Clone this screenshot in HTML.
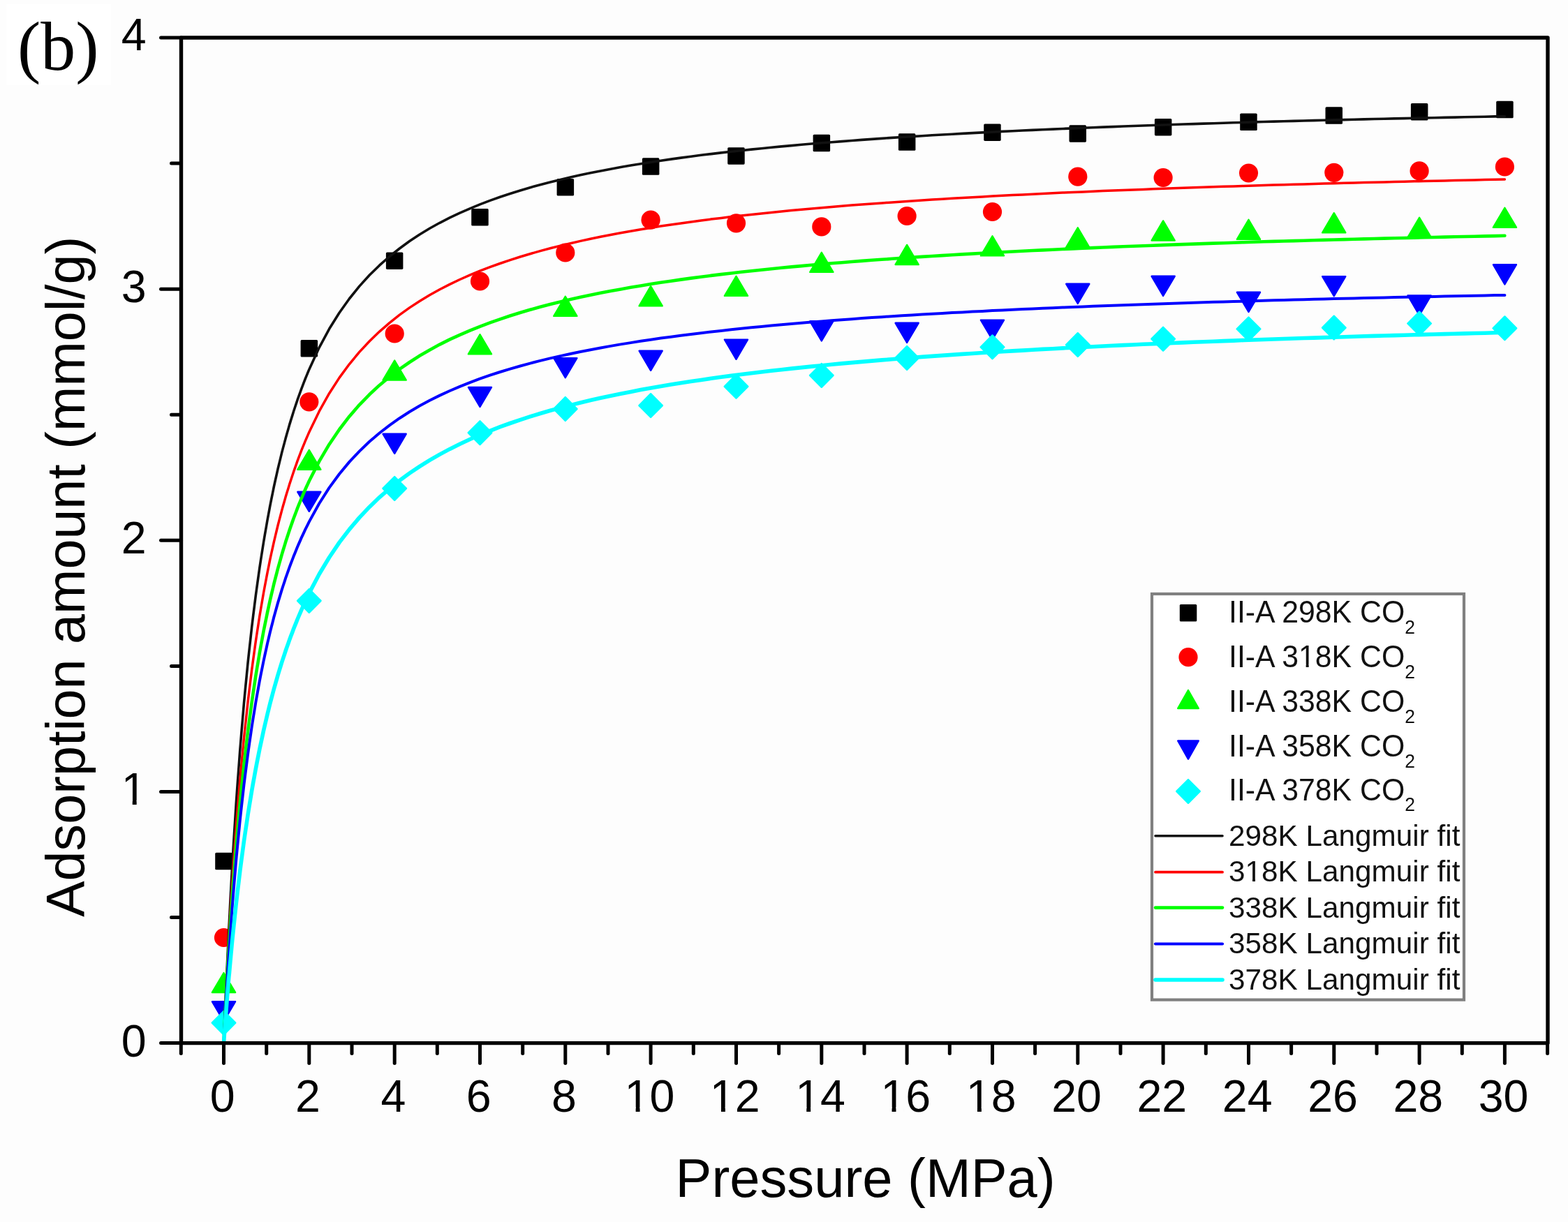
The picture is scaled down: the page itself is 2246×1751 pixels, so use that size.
<!DOCTYPE html><html><head><meta charset="utf-8"><title>Adsorption isotherms</title><style>html,body{margin:0;padding:0;background:#fdfdfd;}svg{display:block}text{font-family:"Liberation Sans",Arial,sans-serif;}</style></head><body>
<svg width="2246" height="1751" viewBox="0 0 2246 1751">
<rect x="0" y="0" width="2246" height="1751" fill="#fdfdfd"/>
<rect x="9" y="6" width="150" height="116" fill="#ffffff"/>
<text x="25" y="99.5" font-family="Liberation Serif, serif" font-size="100" fill="#000" style="font-family:'Liberation Serif',serif">(b)</text>
<g id="markers">
<rect x="308.2" y="1221.8" width="24.5" height="24.5" rx="1.6" fill="#000"/>
<rect x="430.6" y="487.1" width="24.5" height="24.5" rx="1.6" fill="#000"/>
<rect x="552.9" y="361.4" width="24.5" height="24.5" rx="1.6" fill="#000"/>
<rect x="675.2" y="299.1" width="24.5" height="24.5" rx="1.6" fill="#000"/>
<rect x="797.6" y="256.1" width="24.5" height="24.5" rx="1.6" fill="#000"/>
<rect x="919.9" y="226.3" width="24.5" height="24.5" rx="1.6" fill="#000"/>
<rect x="1042.2" y="211.2" width="24.5" height="24.5" rx="1.6" fill="#000"/>
<rect x="1164.6" y="192.8" width="24.5" height="24.5" rx="1.6" fill="#000"/>
<rect x="1286.9" y="191.3" width="24.5" height="24.5" rx="1.6" fill="#000"/>
<rect x="1409.2" y="177.4" width="24.5" height="24.5" rx="1.6" fill="#000"/>
<rect x="1531.5" y="179.2" width="24.5" height="24.5" rx="1.6" fill="#000"/>
<rect x="1653.9" y="169.9" width="24.5" height="24.5" rx="1.6" fill="#000"/>
<rect x="1776.2" y="162.6" width="24.5" height="24.5" rx="1.6" fill="#000"/>
<rect x="1898.5" y="153.3" width="24.5" height="24.5" rx="1.6" fill="#000"/>
<rect x="2020.9" y="148.1" width="24.5" height="24.5" rx="1.6" fill="#000"/>
<rect x="2143.2" y="144.8" width="24.5" height="24.5" rx="1.6" fill="#000"/>
<circle cx="320.5" cy="1343.5" r="13.6" fill="#ff0000"/>
<circle cx="442.8" cy="575.8" r="13.6" fill="#ff0000"/>
<circle cx="565.2" cy="478.0" r="13.6" fill="#ff0000"/>
<circle cx="687.5" cy="403.0" r="13.6" fill="#ff0000"/>
<circle cx="809.8" cy="362.0" r="13.6" fill="#ff0000"/>
<circle cx="932.1" cy="315.2" r="13.6" fill="#ff0000"/>
<circle cx="1054.5" cy="319.8" r="13.6" fill="#ff0000"/>
<circle cx="1176.8" cy="324.9" r="13.6" fill="#ff0000"/>
<circle cx="1299.1" cy="309.5" r="13.6" fill="#ff0000"/>
<circle cx="1421.5" cy="303.5" r="13.6" fill="#ff0000"/>
<circle cx="1543.8" cy="253.1" r="13.6" fill="#ff0000"/>
<circle cx="1666.1" cy="254.5" r="13.6" fill="#ff0000"/>
<circle cx="1788.5" cy="248.0" r="13.6" fill="#ff0000"/>
<circle cx="1910.8" cy="247.4" r="13.6" fill="#ff0000"/>
<circle cx="2033.1" cy="244.9" r="13.6" fill="#ff0000"/>
<circle cx="2155.4" cy="239.0" r="13.6" fill="#ff0000"/>
<path d="M320.5,1394.0L337.1,1422.0L303.9,1422.0Z" fill="#00ff00" stroke="#00ff00" stroke-width="2.4" stroke-linejoin="round"/>
<path d="M442.8,644.8L459.4,672.8L426.3,672.8Z" fill="#00ff00" stroke="#00ff00" stroke-width="2.4" stroke-linejoin="round"/>
<path d="M565.2,516.6L581.7,544.6L548.6,544.6Z" fill="#00ff00" stroke="#00ff00" stroke-width="2.4" stroke-linejoin="round"/>
<path d="M687.5,479.3L704.0,507.4L670.9,507.4Z" fill="#00ff00" stroke="#00ff00" stroke-width="2.4" stroke-linejoin="round"/>
<path d="M809.8,424.8L826.4,452.9L793.3,452.9Z" fill="#00ff00" stroke="#00ff00" stroke-width="2.4" stroke-linejoin="round"/>
<path d="M932.1,410.2L948.7,438.4L915.6,438.4Z" fill="#00ff00" stroke="#00ff00" stroke-width="2.4" stroke-linejoin="round"/>
<path d="M1054.5,395.8L1071.0,423.9L1037.9,423.9Z" fill="#00ff00" stroke="#00ff00" stroke-width="2.4" stroke-linejoin="round"/>
<path d="M1176.8,361.8L1193.4,389.9L1160.3,389.9Z" fill="#00ff00" stroke="#00ff00" stroke-width="2.4" stroke-linejoin="round"/>
<path d="M1299.1,350.9L1315.7,379.1L1282.6,379.1Z" fill="#00ff00" stroke="#00ff00" stroke-width="2.4" stroke-linejoin="round"/>
<path d="M1421.5,338.3L1438.0,366.4L1404.9,366.4Z" fill="#00ff00" stroke="#00ff00" stroke-width="2.4" stroke-linejoin="round"/>
<path d="M1543.8,326.3L1560.3,354.4L1527.2,354.4Z" fill="#00ff00" stroke="#00ff00" stroke-width="2.4" stroke-linejoin="round"/>
<path d="M1666.1,316.4L1682.7,344.6L1649.6,344.6Z" fill="#00ff00" stroke="#00ff00" stroke-width="2.4" stroke-linejoin="round"/>
<path d="M1788.5,314.8L1805.0,342.9L1771.9,342.9Z" fill="#00ff00" stroke="#00ff00" stroke-width="2.4" stroke-linejoin="round"/>
<path d="M1910.8,305.2L1927.3,333.4L1894.2,333.4Z" fill="#00ff00" stroke="#00ff00" stroke-width="2.4" stroke-linejoin="round"/>
<path d="M2033.1,311.8L2049.7,339.9L2016.6,339.9Z" fill="#00ff00" stroke="#00ff00" stroke-width="2.4" stroke-linejoin="round"/>
<path d="M2155.4,297.8L2172.0,325.9L2138.9,325.9Z" fill="#00ff00" stroke="#00ff00" stroke-width="2.4" stroke-linejoin="round"/>
<path d="M303.9,1435.2L337.1,1435.2L320.5,1463.3Z" fill="#0000ff" stroke="#0000ff" stroke-width="2.4" stroke-linejoin="round"/>
<path d="M426.3,704.8L459.4,704.8L442.8,732.8Z" fill="#0000ff" stroke="#0000ff" stroke-width="2.4" stroke-linejoin="round"/>
<path d="M548.6,621.8L581.7,621.8L565.2,649.8Z" fill="#0000ff" stroke="#0000ff" stroke-width="2.4" stroke-linejoin="round"/>
<path d="M670.9,555.0L704.0,555.0L687.5,583.0Z" fill="#0000ff" stroke="#0000ff" stroke-width="2.4" stroke-linejoin="round"/>
<path d="M793.3,513.2L826.4,513.2L809.8,541.2Z" fill="#0000ff" stroke="#0000ff" stroke-width="2.4" stroke-linejoin="round"/>
<path d="M915.6,502.7L948.7,502.7L932.1,530.8Z" fill="#0000ff" stroke="#0000ff" stroke-width="2.4" stroke-linejoin="round"/>
<path d="M1037.9,486.6L1071.0,486.6L1054.5,514.8Z" fill="#0000ff" stroke="#0000ff" stroke-width="2.4" stroke-linejoin="round"/>
<path d="M1160.3,460.3L1193.4,460.3L1176.8,488.4Z" fill="#0000ff" stroke="#0000ff" stroke-width="2.4" stroke-linejoin="round"/>
<path d="M1282.6,462.8L1315.7,462.8L1299.1,490.9Z" fill="#0000ff" stroke="#0000ff" stroke-width="2.4" stroke-linejoin="round"/>
<path d="M1404.9,458.6L1438.0,458.6L1421.5,486.7Z" fill="#0000ff" stroke="#0000ff" stroke-width="2.4" stroke-linejoin="round"/>
<path d="M1527.2,406.8L1560.3,406.8L1543.8,434.9Z" fill="#0000ff" stroke="#0000ff" stroke-width="2.4" stroke-linejoin="round"/>
<path d="M1649.6,395.8L1682.7,395.8L1666.1,423.9Z" fill="#0000ff" stroke="#0000ff" stroke-width="2.4" stroke-linejoin="round"/>
<path d="M1771.9,418.8L1805.0,418.8L1788.5,446.9Z" fill="#0000ff" stroke="#0000ff" stroke-width="2.4" stroke-linejoin="round"/>
<path d="M1894.2,396.1L1927.3,396.1L1910.8,424.2Z" fill="#0000ff" stroke="#0000ff" stroke-width="2.4" stroke-linejoin="round"/>
<path d="M2016.6,423.4L2049.7,423.4L2033.1,451.6Z" fill="#0000ff" stroke="#0000ff" stroke-width="2.4" stroke-linejoin="round"/>
<path d="M2138.9,379.2L2172.0,379.2L2155.4,407.4Z" fill="#0000ff" stroke="#0000ff" stroke-width="2.4" stroke-linejoin="round"/>
<path d="M320.5,1448.8L337.3,1465.7L320.5,1482.6L303.7,1465.7Z" fill="#00ffff" stroke="#00ffff" stroke-width="2.4" stroke-linejoin="round"/>
<path d="M442.8,844.0L459.6,860.9L442.8,877.8L426.0,860.9Z" fill="#00ffff" stroke="#00ffff" stroke-width="2.4" stroke-linejoin="round"/>
<path d="M565.2,683.0L582.0,699.9L565.2,716.8L548.4,699.9Z" fill="#00ffff" stroke="#00ffff" stroke-width="2.4" stroke-linejoin="round"/>
<path d="M687.5,603.3L704.3,620.2L687.5,637.1L670.7,620.2Z" fill="#00ffff" stroke="#00ffff" stroke-width="2.4" stroke-linejoin="round"/>
<path d="M809.8,569.1L826.6,586.0L809.8,602.9L793.0,586.0Z" fill="#00ffff" stroke="#00ffff" stroke-width="2.4" stroke-linejoin="round"/>
<path d="M932.1,564.2L948.9,581.1L932.1,598.0L915.4,581.1Z" fill="#00ffff" stroke="#00ffff" stroke-width="2.4" stroke-linejoin="round"/>
<path d="M1054.5,536.9L1071.3,553.8L1054.5,570.7L1037.7,553.8Z" fill="#00ffff" stroke="#00ffff" stroke-width="2.4" stroke-linejoin="round"/>
<path d="M1176.8,521.0L1193.6,537.9L1176.8,554.8L1160.0,537.9Z" fill="#00ffff" stroke="#00ffff" stroke-width="2.4" stroke-linejoin="round"/>
<path d="M1299.1,496.1L1315.9,513.0L1299.1,529.9L1282.3,513.0Z" fill="#00ffff" stroke="#00ffff" stroke-width="2.4" stroke-linejoin="round"/>
<path d="M1421.5,480.4L1438.3,497.3L1421.5,514.2L1404.7,497.3Z" fill="#00ffff" stroke="#00ffff" stroke-width="2.4" stroke-linejoin="round"/>
<path d="M1543.8,477.2L1560.6,494.1L1543.8,511.0L1527.0,494.1Z" fill="#00ffff" stroke="#00ffff" stroke-width="2.4" stroke-linejoin="round"/>
<path d="M1666.1,468.8L1682.9,485.7L1666.1,502.6L1649.3,485.7Z" fill="#00ffff" stroke="#00ffff" stroke-width="2.4" stroke-linejoin="round"/>
<path d="M1788.5,454.5L1805.3,471.4L1788.5,488.3L1771.7,471.4Z" fill="#00ffff" stroke="#00ffff" stroke-width="2.4" stroke-linejoin="round"/>
<path d="M1910.8,452.7L1927.6,469.6L1910.8,486.5L1894.0,469.6Z" fill="#00ffff" stroke="#00ffff" stroke-width="2.4" stroke-linejoin="round"/>
<path d="M2033.1,446.6L2049.9,463.5L2033.1,480.4L2016.3,463.5Z" fill="#00ffff" stroke="#00ffff" stroke-width="2.4" stroke-linejoin="round"/>
<path d="M2155.4,453.4L2172.2,470.3L2155.4,487.2L2138.6,470.3Z" fill="#00ffff" stroke="#00ffff" stroke-width="2.4" stroke-linejoin="round"/>
</g>
<g id="curves">
<polyline fill="none" stroke="#111" stroke-width="3.6" stroke-linejoin="round" stroke-linecap="round" points="320.5,1494.6 321.1,1480.2 321.7,1465.6 322.3,1451.2 322.9,1436.9 323.6,1422.9 324.2,1409.1 324.8,1395.5 325.4,1382.2 326.0,1369.1 326.6,1356.3 327.2,1343.6 327.8,1331.2 328.5,1319.1 329.1,1307.1 329.7,1295.4 330.3,1283.9 330.9,1272.6 331.5,1261.5 332.1,1250.6 332.7,1239.9 334.6,1208.4 336.5,1178.6 338.3,1150.3 340.2,1123.4 342.1,1097.8 343.9,1073.5 345.8,1050.3 347.7,1028.2 349.5,1007.2 351.4,987.0 353.3,967.7 355.1,949.3 357.0,931.6 358.9,914.7 360.7,898.4 362.6,882.8 364.5,867.8 366.3,853.4 368.2,839.5 370.1,826.1 371.9,813.2 373.8,800.8 375.7,788.8 377.5,777.2 379.4,766.0 381.3,755.2 383.1,744.7 385.0,734.6 386.8,724.8 388.7,715.3 390.6,706.1 392.4,697.2 394.3,688.5 396.2,680.1 398.0,672.0 399.9,664.1 401.8,656.4 403.6,648.9 405.5,641.6 407.4,634.6 409.2,627.7 411.1,621.0 413.0,614.5 414.8,608.1 416.7,601.9 418.6,595.9 420.4,590.0 422.3,584.3 424.2,578.7 426.0,573.2 427.9,567.9 429.8,562.7 431.6,557.6 433.5,552.6 435.4,547.7 437.2,543.0 439.1,538.3 441.0,533.8 442.8,529.4 457.2,498.1 471.6,471.3 486.0,448.2 500.4,428.0 514.8,410.1 529.2,394.3 543.6,380.2 558.0,367.5 572.4,356.0 586.7,345.5 601.1,336.0 615.5,327.3 629.9,319.3 644.3,311.9 658.7,305.1 673.1,298.8 687.5,292.9 701.9,287.4 716.3,282.3 730.7,277.5 745.1,273.0 759.4,268.7 773.8,264.7 788.2,261.0 802.6,257.4 817.0,254.0 831.4,250.8 845.8,247.8 860.2,244.9 874.6,242.2 889.0,239.5 903.4,237.0 917.8,234.7 932.1,232.4 946.5,230.2 960.9,228.1 975.3,226.1 989.7,224.2 1004.1,222.3 1018.5,220.6 1032.9,218.9 1047.3,217.2 1061.7,215.7 1076.1,214.1 1090.5,212.7 1104.9,211.2 1119.2,209.9 1133.6,208.6 1148.0,207.3 1162.4,206.0 1176.8,204.8 1191.2,203.7 1205.6,202.6 1220.0,201.5 1234.4,200.4 1248.8,199.4 1263.2,198.4 1277.6,197.4 1291.9,196.5 1306.3,195.6 1320.7,194.7 1335.1,193.8 1349.5,193.0 1363.9,192.2 1378.3,191.4 1392.7,190.6 1407.1,189.9 1421.5,189.1 1435.9,188.4 1450.3,187.7 1464.6,187.0 1479.0,186.4 1493.4,185.7 1507.8,185.1 1522.2,184.5 1536.6,183.9 1551.0,183.3 1565.4,182.7 1579.8,182.1 1594.2,181.6 1608.6,181.0 1623.0,180.5 1637.3,180.0 1651.7,179.5 1666.1,179.0 1680.5,178.5 1694.9,178.0 1709.3,177.6 1723.7,177.1 1738.1,176.7 1752.5,176.2 1766.9,175.8 1781.3,175.4 1795.7,174.9 1810.0,174.5 1824.4,174.1 1838.8,173.8 1853.2,173.4 1867.6,173.0 1882.0,172.6 1896.4,172.3 1910.8,171.9 1925.2,171.6 1939.6,171.2 1954.0,170.9 1968.4,170.5 1982.7,170.2 1997.1,169.9 2011.5,169.6 2025.9,169.3 2040.3,169.0 2054.7,168.7 2069.1,168.4 2083.5,168.1 2097.9,167.8 2112.3,167.5 2126.7,167.2 2141.1,166.9 2155.4,166.7"/>
<polyline fill="none" stroke="#ff0000" stroke-width="3.5" stroke-linejoin="round" stroke-linecap="round" points="320.5,1494.6 321.1,1480.5 321.7,1466.9 322.3,1453.5 322.9,1440.4 323.6,1427.7 324.2,1415.1 324.8,1402.9 325.4,1390.9 326.0,1379.2 326.6,1367.7 327.2,1356.4 327.8,1345.3 328.5,1334.5 329.1,1323.9 329.7,1313.4 330.3,1303.2 330.9,1293.2 331.5,1283.3 332.1,1273.6 332.7,1264.1 334.6,1236.2 336.5,1209.8 338.3,1184.6 340.2,1160.8 342.1,1138.1 343.9,1116.5 345.8,1095.8 347.7,1076.1 349.5,1057.3 351.4,1039.3 353.3,1022.0 355.1,1005.5 357.0,989.6 358.9,974.4 360.7,959.7 362.6,945.7 364.5,932.1 366.3,919.0 368.2,906.5 370.1,894.3 371.9,882.6 373.8,871.3 375.7,860.3 377.5,849.8 379.4,839.5 381.3,829.6 383.1,820.1 385.0,810.8 386.8,801.7 388.7,793.0 390.6,784.5 392.4,776.3 394.3,768.3 396.2,760.5 398.0,753.0 399.9,745.6 401.8,738.5 403.6,731.6 405.5,724.8 407.4,718.2 409.2,711.8 411.1,705.5 413.0,699.4 414.8,693.5 416.7,687.7 418.6,682.0 420.4,676.5 422.3,671.1 424.2,665.8 426.0,660.7 427.9,655.6 429.8,650.7 431.6,645.9 433.5,641.2 435.4,636.6 437.2,632.1 439.1,627.7 441.0,623.4 442.8,619.2 457.2,589.4 471.6,563.7 486.0,541.4 500.4,521.8 514.8,504.4 529.2,489.0 543.6,475.1 558.0,462.6 572.4,451.2 586.7,440.9 601.1,431.5 615.5,422.8 629.9,414.8 644.3,407.4 658.7,400.5 673.1,394.2 687.5,388.2 701.9,382.7 716.3,377.5 730.7,372.6 745.1,368.0 759.4,363.7 773.8,359.6 788.2,355.8 802.6,352.1 817.0,348.7 831.4,345.4 845.8,342.3 860.2,339.3 874.6,336.5 889.0,333.8 903.4,331.2 917.8,328.7 932.1,326.4 946.5,324.1 960.9,322.0 975.3,319.9 989.7,317.9 1004.1,316.0 1018.5,314.1 1032.9,312.4 1047.3,310.6 1061.7,309.0 1076.1,307.4 1090.5,305.9 1104.9,304.4 1119.2,303.0 1133.6,301.6 1148.0,300.2 1162.4,298.9 1176.8,297.7 1191.2,296.5 1205.6,295.3 1220.0,294.1 1234.4,293.0 1248.8,291.9 1263.2,290.9 1277.6,289.9 1291.9,288.9 1306.3,287.9 1320.7,287.0 1335.1,286.1 1349.5,285.2 1363.9,284.3 1378.3,283.5 1392.7,282.7 1407.1,281.9 1421.5,281.1 1435.9,280.3 1450.3,279.6 1464.6,278.9 1479.0,278.2 1493.4,277.5 1507.8,276.8 1522.2,276.1 1536.6,275.5 1551.0,274.9 1565.4,274.2 1579.8,273.6 1594.2,273.0 1608.6,272.5 1623.0,271.9 1637.3,271.4 1651.7,270.8 1666.1,270.3 1680.5,269.8 1694.9,269.3 1709.3,268.8 1723.7,268.3 1738.1,267.8 1752.5,267.3 1766.9,266.9 1781.3,266.4 1795.7,266.0 1810.0,265.5 1824.4,265.1 1838.8,264.7 1853.2,264.3 1867.6,263.9 1882.0,263.5 1896.4,263.1 1910.8,262.7 1925.2,262.3 1939.6,261.9 1954.0,261.6 1968.4,261.2 1982.7,260.9 1997.1,260.5 2011.5,260.2 2025.9,259.8 2040.3,259.5 2054.7,259.2 2069.1,258.9 2083.5,258.5 2097.9,258.2 2112.3,257.9 2126.7,257.6 2141.1,257.3 2155.4,257.0"/>
<polyline fill="none" stroke="#00ff00" stroke-width="4.6" stroke-linejoin="round" stroke-linecap="round" points="320.5,1494.6 321.1,1481.3 321.7,1468.5 322.3,1456.2 322.9,1444.2 323.6,1432.4 324.2,1421.0 324.8,1409.8 325.4,1398.8 326.0,1388.1 326.6,1377.6 327.2,1367.4 327.8,1357.3 328.5,1347.4 329.1,1337.8 329.7,1328.3 330.3,1319.0 330.9,1309.9 331.5,1300.9 332.1,1292.2 332.7,1283.5 334.6,1258.2 336.5,1234.1 338.3,1211.3 340.2,1189.6 342.1,1169.0 343.9,1149.3 345.8,1130.5 347.7,1112.5 349.5,1095.3 351.4,1078.9 353.3,1063.1 355.1,1048.0 357.0,1033.4 358.9,1019.5 360.7,1006.0 362.6,993.1 364.5,980.6 366.3,968.6 368.2,957.0 370.1,945.8 371.9,935.0 373.8,924.6 375.7,914.5 377.5,904.7 379.4,895.2 381.3,886.1 383.1,877.2 385.0,868.6 386.8,860.2 388.7,852.1 390.6,844.2 392.4,836.5 394.3,829.1 396.2,821.9 398.0,814.8 399.9,808.0 401.8,801.3 403.6,794.8 405.5,788.5 407.4,782.3 409.2,776.3 411.1,770.5 413.0,764.8 414.8,759.2 416.7,753.7 418.6,748.4 420.4,743.2 422.3,738.2 424.2,733.2 426.0,728.4 427.9,723.7 429.8,719.0 431.6,714.5 433.5,710.1 435.4,705.7 437.2,701.5 439.1,697.3 441.0,693.3 442.8,689.3 457.2,661.1 471.6,636.7 486.0,615.5 500.4,596.7 514.8,580.1 529.2,565.3 543.6,551.9 558.0,539.9 572.4,528.9 586.7,519.0 601.1,509.8 615.5,501.4 629.9,493.6 644.3,486.4 658.7,479.8 673.1,473.6 687.5,467.8 701.9,462.4 716.3,457.3 730.7,452.5 745.1,448.0 759.4,443.8 773.8,439.8 788.2,436.0 802.6,432.4 817.0,429.0 831.4,425.8 845.8,422.7 860.2,419.8 874.6,417.0 889.0,414.4 903.4,411.8 917.8,409.4 932.1,407.0 946.5,404.8 960.9,402.7 975.3,400.6 989.7,398.6 1004.1,396.7 1018.5,394.9 1032.9,393.1 1047.3,391.5 1061.7,389.8 1076.1,388.2 1090.5,386.7 1104.9,385.2 1119.2,383.8 1133.6,382.4 1148.0,381.1 1162.4,379.8 1176.8,378.6 1191.2,377.3 1205.6,376.2 1220.0,375.0 1234.4,373.9 1248.8,372.8 1263.2,371.8 1277.6,370.8 1291.9,369.8 1306.3,368.8 1320.7,367.9 1335.1,367.0 1349.5,366.1 1363.9,365.2 1378.3,364.4 1392.7,363.6 1407.1,362.8 1421.5,362.0 1435.9,361.2 1450.3,360.5 1464.6,359.8 1479.0,359.0 1493.4,358.4 1507.8,357.7 1522.2,357.0 1536.6,356.4 1551.0,355.7 1565.4,355.1 1579.8,354.5 1594.2,353.9 1608.6,353.3 1623.0,352.8 1637.3,352.2 1651.7,351.7 1666.1,351.1 1680.5,350.6 1694.9,350.1 1709.3,349.6 1723.7,349.1 1738.1,348.6 1752.5,348.2 1766.9,347.7 1781.3,347.2 1795.7,346.8 1810.0,346.3 1824.4,345.9 1838.8,345.5 1853.2,345.1 1867.6,344.7 1882.0,344.3 1896.4,343.9 1910.8,343.5 1925.2,343.1 1939.6,342.7 1954.0,342.4 1968.4,342.0 1982.7,341.6 1997.1,341.3 2011.5,341.0 2025.9,340.6 2040.3,340.3 2054.7,340.0 2069.1,339.6 2083.5,339.3 2097.9,339.0 2112.3,338.7 2126.7,338.4 2141.1,338.1 2155.4,337.8"/>
<polyline fill="none" stroke="#0000ff" stroke-width="4.0" stroke-linejoin="round" stroke-linecap="round" points="320.5,1494.6 321.1,1482.3 321.7,1470.5 322.3,1459.1 322.9,1447.9 323.6,1437.0 324.2,1426.4 324.8,1416.0 325.4,1405.9 326.0,1395.9 326.6,1386.2 327.2,1376.7 327.8,1367.3 328.5,1358.2 329.1,1349.2 329.7,1340.4 330.3,1331.8 330.9,1323.3 331.5,1315.0 332.1,1306.9 332.7,1298.9 334.6,1275.3 336.5,1253.0 338.3,1231.8 340.2,1211.7 342.1,1192.5 343.9,1174.2 345.8,1156.8 347.7,1140.1 349.5,1124.1 351.4,1108.9 353.3,1094.2 355.1,1080.2 357.0,1066.7 358.9,1053.7 360.7,1041.3 362.6,1029.3 364.5,1017.7 366.3,1006.5 368.2,995.8 370.1,985.4 371.9,975.4 373.8,965.7 375.7,956.3 377.5,947.3 379.4,938.5 381.3,930.0 383.1,921.7 385.0,913.7 386.8,906.0 388.7,898.5 390.6,891.2 392.4,884.1 394.3,877.2 396.2,870.4 398.0,863.9 399.9,857.6 401.8,851.4 403.6,845.4 405.5,839.5 407.4,833.8 409.2,828.2 411.1,822.8 413.0,817.5 414.8,812.4 416.7,807.3 418.6,802.4 420.4,797.6 422.3,792.9 424.2,788.3 426.0,783.8 427.9,779.4 429.8,775.1 431.6,770.9 433.5,766.8 435.4,762.8 437.2,758.9 439.1,755.1 441.0,751.3 442.8,747.6 457.2,721.5 471.6,698.9 486.0,679.3 500.4,661.9 514.8,646.6 529.2,632.8 543.6,620.5 558.0,609.4 572.4,599.2 586.7,590.0 601.1,581.6 615.5,573.8 629.9,566.6 644.3,560.0 658.7,553.8 673.1,548.1 687.5,542.7 701.9,537.7 716.3,533.0 730.7,528.6 745.1,524.5 759.4,520.6 773.8,516.9 788.2,513.4 802.6,510.1 817.0,507.0 831.4,504.0 845.8,501.2 860.2,498.5 874.6,495.9 889.0,493.4 903.4,491.1 917.8,488.8 932.1,486.7 946.5,484.6 960.9,482.7 975.3,480.8 989.7,478.9 1004.1,477.2 1018.5,475.5 1032.9,473.9 1047.3,472.3 1061.7,470.8 1076.1,469.3 1090.5,467.9 1104.9,466.6 1119.2,465.3 1133.6,464.0 1148.0,462.8 1162.4,461.6 1176.8,460.4 1191.2,459.3 1205.6,458.2 1220.0,457.2 1234.4,456.1 1248.8,455.1 1263.2,454.2 1277.6,453.2 1291.9,452.3 1306.3,451.4 1320.7,450.6 1335.1,449.7 1349.5,448.9 1363.9,448.1 1378.3,447.4 1392.7,446.6 1407.1,445.9 1421.5,445.1 1435.9,444.4 1450.3,443.8 1464.6,443.1 1479.0,442.4 1493.4,441.8 1507.8,441.2 1522.2,440.6 1536.6,440.0 1551.0,439.4 1565.4,438.8 1579.8,438.3 1594.2,437.7 1608.6,437.2 1623.0,436.7 1637.3,436.2 1651.7,435.7 1666.1,435.2 1680.5,434.7 1694.9,434.2 1709.3,433.7 1723.7,433.3 1738.1,432.8 1752.5,432.4 1766.9,432.0 1781.3,431.6 1795.7,431.2 1810.0,430.7 1824.4,430.3 1838.8,430.0 1853.2,429.6 1867.6,429.2 1882.0,428.8 1896.4,428.5 1910.8,428.1 1925.2,427.8 1939.6,427.4 1954.0,427.1 1968.4,426.7 1982.7,426.4 1997.1,426.1 2011.5,425.8 2025.9,425.5 2040.3,425.2 2054.7,424.9 2069.1,424.6 2083.5,424.3 2097.9,424.0 2112.3,423.7 2126.7,423.4 2141.1,423.1 2155.4,422.9"/>
<polyline fill="none" stroke="#00ffff" stroke-width="5.6" stroke-linejoin="round" stroke-linecap="round" points="320.5,1494.6 321.1,1485.7 321.7,1477.1 322.3,1468.8 322.9,1460.6 323.6,1452.7 324.2,1444.8 324.8,1437.1 325.4,1429.6 326.0,1422.1 326.6,1414.8 327.2,1407.6 327.8,1400.6 328.5,1393.6 329.1,1386.8 329.7,1380.0 330.3,1373.4 330.9,1366.8 331.5,1360.4 332.1,1354.0 332.7,1347.8 334.6,1329.2 336.5,1311.5 338.3,1294.4 340.2,1278.0 342.1,1262.3 343.9,1247.2 345.8,1232.6 347.7,1218.5 349.5,1205.0 351.4,1191.9 353.3,1179.3 355.1,1167.1 357.0,1155.3 358.9,1143.9 360.7,1132.8 362.6,1122.1 364.5,1111.7 366.3,1101.7 368.2,1091.9 370.1,1082.4 371.9,1073.2 373.8,1064.3 375.7,1055.6 377.5,1047.1 379.4,1038.9 381.3,1030.9 383.1,1023.1 385.0,1015.5 386.8,1008.2 388.7,1001.0 390.6,993.9 392.4,987.1 394.3,980.4 396.2,973.9 398.0,967.5 399.9,961.3 401.8,955.2 403.6,949.3 405.5,943.5 407.4,937.9 409.2,932.3 411.1,926.9 413.0,921.6 414.8,916.4 416.7,911.3 418.6,906.4 420.4,901.5 422.3,896.7 424.2,892.1 426.0,887.5 427.9,883.0 429.8,878.6 431.6,874.3 433.5,870.1 435.4,865.9 437.2,861.9 439.1,857.9 441.0,854.0 442.8,850.1 457.2,822.7 471.6,798.7 486.0,777.4 500.4,758.6 514.8,741.6 529.2,726.4 543.6,712.6 558.0,700.1 572.4,688.6 586.7,678.0 601.1,668.4 615.5,659.4 629.9,651.1 644.3,643.4 658.7,636.2 673.1,629.5 687.5,623.2 701.9,617.3 716.3,611.7 730.7,606.5 745.1,601.6 759.4,596.9 773.8,592.5 788.2,588.3 802.6,584.4 817.0,580.6 831.4,577.0 845.8,573.6 860.2,570.3 874.6,567.2 889.0,564.2 903.4,561.4 917.8,558.6 932.1,556.0 946.5,553.5 960.9,551.1 975.3,548.8 989.7,546.5 1004.1,544.4 1018.5,542.3 1032.9,540.3 1047.3,538.4 1061.7,536.5 1076.1,534.7 1090.5,533.0 1104.9,531.3 1119.2,529.7 1133.6,528.1 1148.0,526.6 1162.4,525.1 1176.8,523.7 1191.2,522.3 1205.6,520.9 1220.0,519.6 1234.4,518.4 1248.8,517.1 1263.2,515.9 1277.6,514.8 1291.9,513.6 1306.3,512.5 1320.7,511.4 1335.1,510.4 1349.5,509.4 1363.9,508.4 1378.3,507.4 1392.7,506.5 1407.1,505.5 1421.5,504.6 1435.9,503.8 1450.3,502.9 1464.6,502.1 1479.0,501.2 1493.4,500.4 1507.8,499.7 1522.2,498.9 1536.6,498.1 1551.0,497.4 1565.4,496.7 1579.8,496.0 1594.2,495.3 1608.6,494.6 1623.0,494.0 1637.3,493.3 1651.7,492.7 1666.1,492.1 1680.5,491.5 1694.9,490.9 1709.3,490.3 1723.7,489.7 1738.1,489.2 1752.5,488.6 1766.9,488.1 1781.3,487.5 1795.7,487.0 1810.0,486.5 1824.4,486.0 1838.8,485.5 1853.2,485.0 1867.6,484.5 1882.0,484.1 1896.4,483.6 1910.8,483.2 1925.2,482.7 1939.6,482.3 1954.0,481.8 1968.4,481.4 1982.7,481.0 1997.1,480.6 2011.5,480.2 2025.9,479.8 2040.3,479.4 2054.7,479.0 2069.1,478.6 2083.5,478.3 2097.9,477.9 2112.3,477.5 2126.7,477.2 2141.1,476.8 2155.4,476.5"/>
</g>
<path d="M259.5,1494.6V54.0H2217.0V1494.6Z" stroke="#000" stroke-width="5.4" fill="none" stroke-linejoin="round"/>
<g stroke="#000" stroke-width="5" fill="none" stroke-linecap="round">
<path d="M230.5,1494.6H259.5"/>
<path d="M245.5,1314.5H259.5"/>
<path d="M230.5,1134.4H259.5"/>
<path d="M245.5,954.4H259.5"/>
<path d="M230.5,774.3H259.5"/>
<path d="M245.5,594.2H259.5"/>
<path d="M230.5,414.2H259.5"/>
<path d="M245.5,234.1H259.5"/>
<path d="M230.5,54.0H259.5"/>
<path d="M259.3,1494.6V1509.5"/>
<path d="M320.5,1494.6V1523.5"/>
<path d="M381.7,1494.6V1509.5"/>
<path d="M442.8,1494.6V1523.5"/>
<path d="M504.0,1494.6V1509.5"/>
<path d="M565.2,1494.6V1523.5"/>
<path d="M626.3,1494.6V1509.5"/>
<path d="M687.5,1494.6V1523.5"/>
<path d="M748.7,1494.6V1509.5"/>
<path d="M809.8,1494.6V1523.5"/>
<path d="M871.0,1494.6V1509.5"/>
<path d="M932.1,1494.6V1523.5"/>
<path d="M993.3,1494.6V1509.5"/>
<path d="M1054.5,1494.6V1523.5"/>
<path d="M1115.6,1494.6V1509.5"/>
<path d="M1176.8,1494.6V1523.5"/>
<path d="M1238.0,1494.6V1509.5"/>
<path d="M1299.1,1494.6V1523.5"/>
<path d="M1360.3,1494.6V1509.5"/>
<path d="M1421.5,1494.6V1523.5"/>
<path d="M1482.6,1494.6V1509.5"/>
<path d="M1543.8,1494.6V1523.5"/>
<path d="M1605.0,1494.6V1509.5"/>
<path d="M1666.1,1494.6V1523.5"/>
<path d="M1727.3,1494.6V1509.5"/>
<path d="M1788.5,1494.6V1523.5"/>
<path d="M1849.6,1494.6V1509.5"/>
<path d="M1910.8,1494.6V1523.5"/>
<path d="M1972.0,1494.6V1509.5"/>
<path d="M2033.1,1494.6V1523.5"/>
<path d="M2094.3,1494.6V1509.5"/>
<path d="M2155.4,1494.6V1523.5"/>
<path d="M2216.6,1494.6V1509.5"/>
</g>
<g>
<g><text id="t1" x="209.5" y="1513.9" font-size="64.5" fill="#000" text-anchor="end">0</text>
</g>
<g><text id="t2" x="209.5" y="1153.0" font-size="64.5" fill="#000" text-anchor="end">1</text>
<rect x="177.74" y="1146.78" width="11.99" height="7.22" fill="#fdfdfd"/>
<rect x="195.66" y="1146.78" width="11.48" height="7.22" fill="#fdfdfd"/>
</g>
<g><text id="t3" x="209.5" y="792.9" font-size="64.5" fill="#000" text-anchor="end">2</text>
</g>
<g><text id="t4" x="209.5" y="432.7" font-size="64.5" fill="#000" text-anchor="end">3</text>
</g>
<g><text id="t5" x="209.5" y="71.8" font-size="64.5" fill="#000" text-anchor="end">4</text>
</g>
<g><text id="t6" x="318.7" y="1592.7" font-size="64.5" fill="#000" text-anchor="middle">0</text>
</g>
<g><text id="t7" x="441.0" y="1592.7" font-size="64.5" fill="#000" text-anchor="middle">2</text>
</g>
<g><text id="t8" x="563.4" y="1592.7" font-size="64.5" fill="#000" text-anchor="middle">4</text>
</g>
<g><text id="t9" x="685.7" y="1592.7" font-size="64.5" fill="#000" text-anchor="middle">6</text>
</g>
<g><text id="t10" x="808.0" y="1592.7" font-size="64.5" fill="#000" text-anchor="middle">8</text>
</g>
<g><text id="t11" x="930.4" y="1592.7" font-size="64.5" fill="#000" text-anchor="middle">10</text>
<rect x="898.64" y="1586.48" width="11.99" height="7.22" fill="#fdfdfd"/>
<rect x="916.56" y="1586.48" width="11.48" height="7.22" fill="#fdfdfd"/>
</g>
<g><text id="t12" x="1052.7" y="1592.7" font-size="64.5" fill="#000" text-anchor="middle">12</text>
<rect x="1020.94" y="1586.48" width="11.99" height="7.22" fill="#fdfdfd"/>
<rect x="1038.86" y="1586.48" width="11.48" height="7.22" fill="#fdfdfd"/>
</g>
<g><text id="t13" x="1175.0" y="1592.7" font-size="64.5" fill="#000" text-anchor="middle">14</text>
<rect x="1143.24" y="1586.48" width="11.99" height="7.22" fill="#fdfdfd"/>
<rect x="1161.16" y="1586.48" width="11.48" height="7.22" fill="#fdfdfd"/>
</g>
<g><text id="t14" x="1297.3" y="1592.7" font-size="64.5" fill="#000" text-anchor="middle">16</text>
<rect x="1265.54" y="1586.48" width="11.99" height="7.22" fill="#fdfdfd"/>
<rect x="1283.46" y="1586.48" width="11.48" height="7.22" fill="#fdfdfd"/>
</g>
<g><text id="t15" x="1419.7" y="1592.7" font-size="64.5" fill="#000" text-anchor="middle">18</text>
<rect x="1387.94" y="1586.48" width="11.99" height="7.22" fill="#fdfdfd"/>
<rect x="1405.86" y="1586.48" width="11.48" height="7.22" fill="#fdfdfd"/>
</g>
<g><text id="t16" x="1542.0" y="1592.7" font-size="64.5" fill="#000" text-anchor="middle">20</text>
</g>
<g><text id="t17" x="1664.3" y="1592.7" font-size="64.5" fill="#000" text-anchor="middle">22</text>
</g>
<g><text id="t18" x="1786.7" y="1592.7" font-size="64.5" fill="#000" text-anchor="middle">24</text>
</g>
<g><text id="t19" x="1909.0" y="1592.7" font-size="64.5" fill="#000" text-anchor="middle">26</text>
</g>
<g><text id="t20" x="2031.3" y="1592.7" font-size="64.5" fill="#000" text-anchor="middle">28</text>
</g>
<g><text id="t21" x="2153.6" y="1592.7" font-size="64.5" fill="#000" text-anchor="middle">30</text>
</g>
</g>
<g transform="translate(0,1715) scale(1,1.01) translate(0,-1715)"><text id="t22" x="967.6" y="1715" font-size="77.7" fill="#000">Pressure (MPa)</text>
</g>
<g transform="translate(120.5,1314) rotate(-90)"><text id="t23" x="0" y="0" font-size="77.3" fill="#000">Adsorption amount (mmol/g)</text>
</g>
<rect x="1650" y="851" width="447" height="581.6" fill="#fff" stroke="#808080" stroke-width="4.2"/>
<rect x="1689.8" y="866.0" width="24.5" height="24.5" rx="1.6" fill="#000"/>
<circle cx="1702.0" cy="941.7" r="13.6" fill="#ff0000"/>
<path d="M1702.0,989.0L1716.8,1015.0L1687.2,1015.0Z" fill="#00ff00" stroke="#00ff00" stroke-width="2.4" stroke-linejoin="round"/>
<path d="M1687.2,1061.5L1716.8,1061.5L1702.0,1087.6Z" fill="#0000ff" stroke="#0000ff" stroke-width="2.4" stroke-linejoin="round"/>
<path d="M1702.0,1117.0L1718.8,1133.9L1702.0,1150.8L1685.2,1133.9Z" fill="#00ffff" stroke="#00ffff" stroke-width="2.4" stroke-linejoin="round"/>
<g transform="translate(0,892.5) scale(1,1.015) translate(0,-892.5)"><text id="t24" x="1760" y="892.5" font-size="42.85" fill="#111">II-A 298K CO<tspan font-size="26.5" dy="15.3">2</tspan></text>
</g>
<g transform="translate(0,956.5) scale(1,1.015) translate(0,-956.5)"><text id="t25" x="1760" y="956.5" font-size="42.85" fill="#111">II-A 318K CO<tspan font-size="26.5" dy="15.3">2</tspan></text>
<rect x="1862.45" y="951.90" width="8.19" height="5.60" fill="#fff"/>
<rect x="1874.66" y="951.90" width="7.86" height="5.60" fill="#fff"/>
</g>
<g transform="translate(0,1020) scale(1,1.015) translate(0,-1020)"><text id="t26" x="1760" y="1020" font-size="42.85" fill="#111">II-A 338K CO<tspan font-size="26.5" dy="15.3">2</tspan></text>
</g>
<g transform="translate(0,1084) scale(1,1.015) translate(0,-1084)"><text id="t27" x="1760" y="1084" font-size="42.85" fill="#111">II-A 358K CO<tspan font-size="26.5" dy="15.3">2</tspan></text>
</g>
<g transform="translate(0,1146.6) scale(1,1.015) translate(0,-1146.6)"><text id="t28" x="1760" y="1146.6" font-size="42.85" fill="#111">II-A 378K CO<tspan font-size="26.5" dy="15.3">2</tspan></text>
</g>
<path d="M1655,1197.7H1751" stroke="#111" stroke-width="3.6" stroke-linecap="round"/>
<g transform="translate(0,1212) scale(1,1.015) translate(0,-1212)"><text id="t29" x="1760" y="1212" font-size="42.3" fill="#111">298K Langmuir fit</text>
</g>
<path d="M1655,1249.7H1751" stroke="#ff0000" stroke-width="3.8" stroke-linecap="round"/>
<g transform="translate(0,1263.4) scale(1,1.015) translate(0,-1263.4)"><text id="t30" x="1760" y="1263.4" font-size="42.3" fill="#111">318K Langmuir fit</text>
<rect x="1785.93" y="1258.84" width="8.09" height="5.56" fill="#fff"/>
<rect x="1798.01" y="1258.84" width="7.76" height="5.56" fill="#fff"/>
</g>
<path d="M1655,1300.6H1751" stroke="#00ff00" stroke-width="4.6" stroke-linecap="round"/>
<g transform="translate(0,1314.9) scale(1,1.015) translate(0,-1314.9)"><text id="t31" x="1760" y="1314.9" font-size="42.3" fill="#111">338K Langmuir fit</text>
</g>
<path d="M1655,1352.5H1751" stroke="#0000ff" stroke-width="4.2" stroke-linecap="round"/>
<g transform="translate(0,1366.4) scale(1,1.015) translate(0,-1366.4)"><text id="t32" x="1760" y="1366.4" font-size="42.3" fill="#111">358K Langmuir fit</text>
</g>
<path d="M1655,1404H1751" stroke="#00ffff" stroke-width="5.6" stroke-linecap="round"/>
<g transform="translate(0,1418) scale(1,1.015) translate(0,-1418)"><text id="t33" x="1760" y="1418" font-size="42.3" fill="#111">378K Langmuir fit</text>
</g>
</svg></body></html>
